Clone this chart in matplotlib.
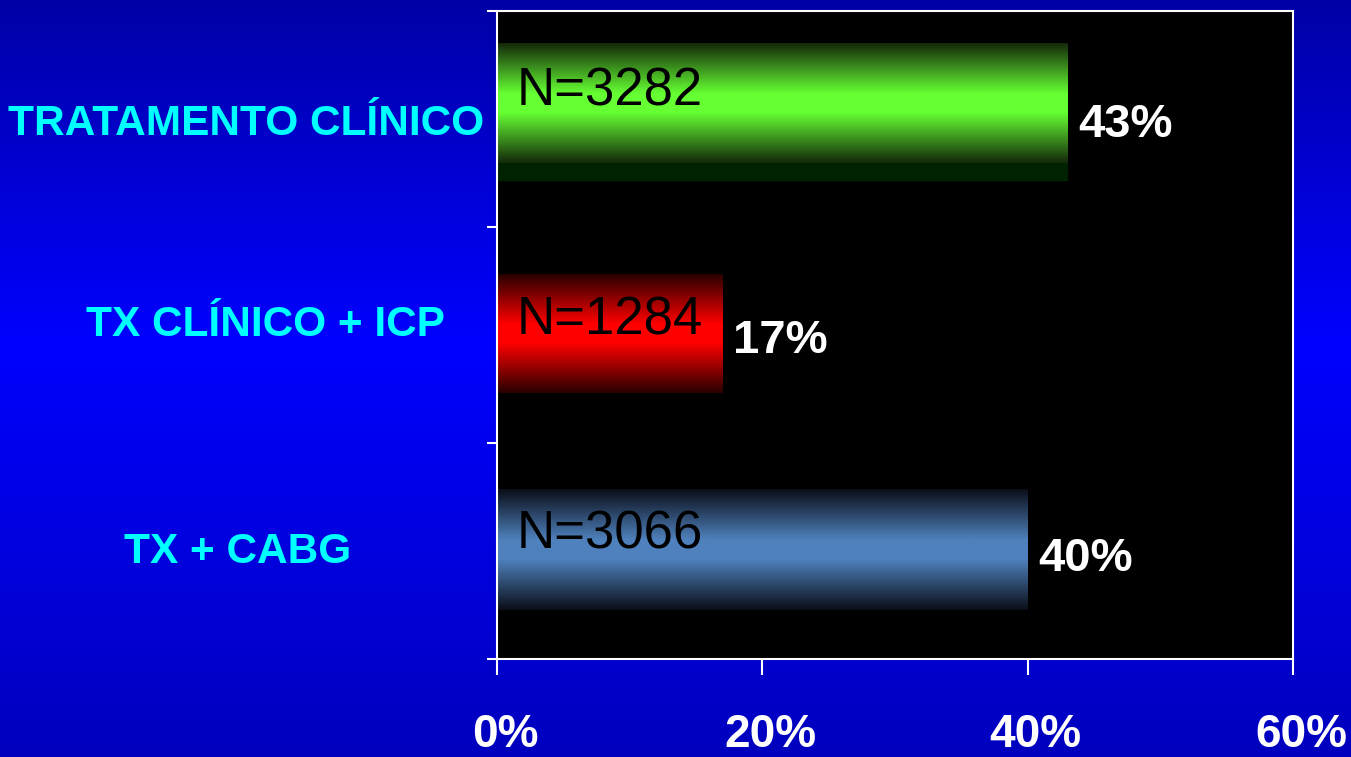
import matplotlib
matplotlib.use('Agg')
import numpy as np
import matplotlib.pyplot as plt
import matplotlib.transforms as mtransforms
from matplotlib.colors import LinearSegmentedColormap
from matplotlib.patches import Rectangle

# data
categories = ['TRATAMENTO CLÍNICO', 'TX CLÍNICO + ICP', 'TX + CABG']
percent = [43, 17, 40]
n_counts = [3282, 1284, 3066]
xticks = [0, 20, 40, 60]

plt.rcParams['font.family'] = ['Liberation Sans', 'DejaVu Sans']

W, H = 1351, 757
fig = plt.figure(figsize=(W / 100, H / 100), dpi=100)

# blue slide background, darker at top and bottom
bg = fig.add_axes([0, 0, 1, 1], zorder=-10)
bg_cmap = LinearSegmentedColormap.from_list(
    'bg', [(0, '#0000A6'), (0.45, '#0000FF'), (1, '#0000BE')])
bg.imshow(np.linspace(0, 1, 256).reshape(-1, 1), aspect='auto', cmap=bg_cmap,
          extent=(0, 1, 0, 1), origin='upper')
bg.axis('off')

ax = fig.add_axes([497 / W, 1 - 659 / H, 796 / W, 648 / H])
ax.set_facecolor('black')

# layout of the bars (category slots are 0..3, top first)
ypos = [2.535, 1.505, 0.505]
heights = [0.634, 0.548, 0.556]
val_y = [2.47, 1.47, 0.465]
n_y = [2.625, 1.568, 0.578]

def shade(edge, mid):
    return LinearSegmentedColormap.from_list(
        'g', [(0, edge), (0.42, mid), (0.58, mid), (1, edge)])

cmaps = [shade('#14280a', '#66FF33'), shade('#280000', '#FF0000'),
         shade('#0a0e18', '#4F81BD')]
strip = [0.125, 0, 0]

bars = ax.barh(ypos, percent, height=heights, color='none')
grad = np.linspace(0, 1, 256).reshape(-1, 1)
for bar, cm, s in zip(bars, cmaps, strip):
    x0, y0 = bar.get_x(), bar.get_y()
    w, h = bar.get_width(), bar.get_height()
    if s:
        ax.add_patch(Rectangle((x0, y0), w, h * s, color='#002200', zorder=2))
        y0 += h * s
        h -= h * s
    ax.imshow(grad, cmap=cm, extent=(x0, x0 + w, y0, y0 + h),
              aspect='auto', origin='upper', zorder=2)

ax.set_xlim(0, 60)
ax.set_ylim(0, 3)

for i in range(len(categories)):
    ax.text(1.5, n_y[i], 'N=%d' % n_counts[i], fontsize=38,
            color='black', ha='left', va='center', zorder=3)
    ax.text(percent[i] + 0.8, val_y[i], '%d%%' % percent[i], fontsize=34,
            fontweight='bold', color='white', ha='left', va='center', zorder=3)

# category names on the left, in cyan
lab_x = [246 / W, 265 / W, 238 / W]
lab_y = [2.475, 1.545, 0.495]
trans = mtransforms.blended_transform_factory(fig.transFigure, ax.transData)
for name, lx, ly in zip(categories, lab_x, lab_y):
    ax.text(lx, ly, name, transform=trans, ha='center', va='center',
            color='#00FFFF', fontsize=30.5, fontweight='bold', clip_on=False)

ax.set_yticks([0, 1, 2, 3])
ax.set_yticklabels([])
ax.tick_params(axis='y', length=7.2, width=1.5, color='white', direction='out')
ax.set_xticks(xticks)
ax.set_xticklabels(['%d%%' % v for v in xticks])
ax.tick_params(axis='x', length=11.5, width=1.5, colors='white',
               labelsize=33, pad=29)
shift = mtransforms.ScaledTranslation(8 / 100, 2 / 100, fig.dpi_scale_trans)
for lbl in ax.get_xticklabels():
    lbl.set_fontweight('bold')
    lbl.set_transform(lbl.get_transform() + shift)

for sp in ax.spines.values():
    sp.set_color('white')
    sp.set_linewidth(1.5)

plt.savefig('out.png', dpi=100)
plt.close()
